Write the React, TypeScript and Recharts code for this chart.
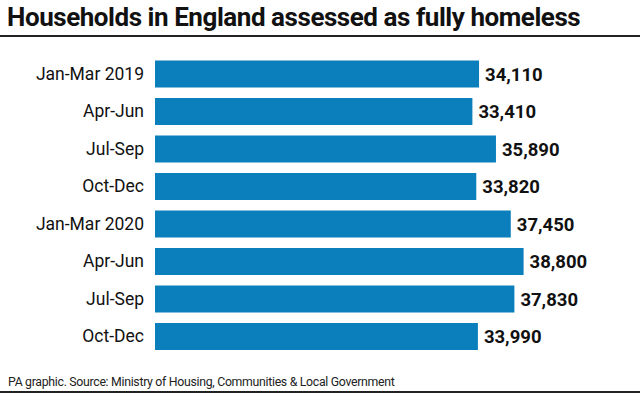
import { BarChart, Bar, XAxis, YAxis, LabelList } from 'recharts';

// --- Data ---
const QUARTERS = ['Jan-Mar 2019', 'Apr-Jun', 'Jul-Sep', 'Oct-Dec', 'Jan-Mar 2020', 'Apr-Jun', 'Jul-Sep', 'Oct-Dec'];
const HOUSEHOLDS = [34110, 33410, 35890, 33820, 37450, 38800, 37830, 33990];

const TITLE = 'Households in England assessed as fully homeless';
const SOURCE = 'PA graphic. Source: Ministry of Housing, Communities & Local Government';

const BAR_COLOR = '#0a7fbc';
const FONT = 'Roboto, "Liberation Sans", sans-serif';

const chartData = QUARTERS.map((q, i) => ({ id: `q${i}`, quarter: q, value: HOUSEHOLDS[i] }));

export default function App() {
    return (
        <div style={{ position: 'absolute', left: 0, top: 0, width: 640, height: 398, background: '#fff', fontFamily: FONT, overflow: 'hidden' }}>
            <div style={{ position: 'absolute', left: 7, top: 2, fontSize: 26, fontWeight: 700, color: '#111', letterSpacing: -0.45, whiteSpace: 'nowrap' }}>
                {TITLE}
            </div>
            <div style={{ position: 'absolute', left: 0, top: 35, width: 640, height: 1.5, background: '#222' }} />

            <div style={{ position: 'absolute', left: 0, top: 0 }}>
                <BarChart
                    width={640}
                    height={398}
                    data={chartData}
                    layout="vertical"
                    margin={{ top: 55, right: 105, bottom: 43, left: 0 }}
                    barCategoryGap={5.5}
                >
                    <XAxis type="number" domain={[0, 40000]} hide />
                    <YAxis
                        type="category"
                        dataKey="id"
                        width={155}
                        axisLine={false}
                        tickLine={false}
                        tickMargin={5}
                        tickFormatter={(v: string) => QUARTERS[Number(v.slice(1))]}
                        tick={{ fill: '#111', fontSize: 17.5, fontFamily: FONT }}
                        interval={0}
                    />
                    <Bar dataKey="value" fill={BAR_COLOR} isAnimationActive={false}>
                        <LabelList
                            dataKey="value"
                            position="right"
                            offset={6}
                            formatter={(v: any) => Number(v).toLocaleString('en-GB')}
                            style={{ fill: '#111', fontSize: 18.5, fontWeight: 700, fontFamily: FONT }}
                        />
                    </Bar>
                </BarChart>
            </div>

            <div style={{ position: 'absolute', left: 8, top: 375, fontSize: 12.3, color: '#222', letterSpacing: -0.3, whiteSpace: 'nowrap' }}>
                {SOURCE}
            </div>
            <div style={{ position: 'absolute', left: 0, top: 391, width: 640, height: 2, background: '#222' }} />
        </div>
    );
}
